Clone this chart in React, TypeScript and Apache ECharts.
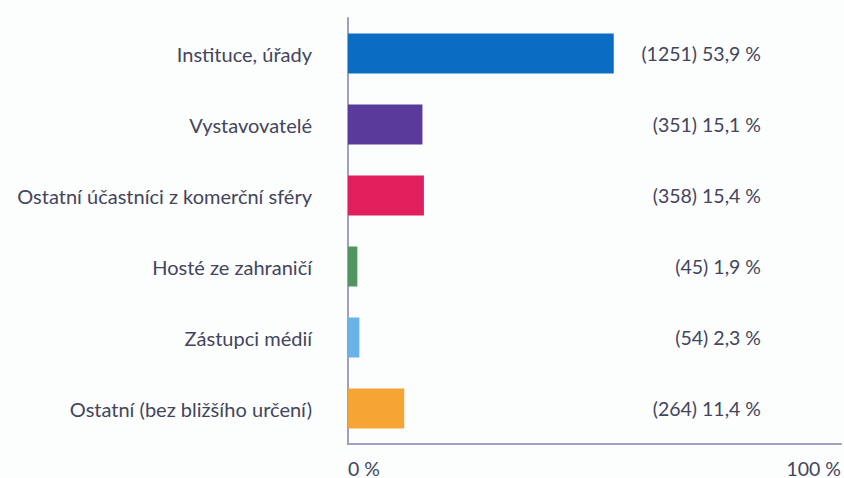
import React, { useEffect, useRef } from "react";
import * as echarts from "echarts";

const categories = [
  "Instituce, úřady",
  "Vystavovatelé",
  "Ostatní účastníci z komerční sféry",
  "Hosté ze zahraničí",
  "Zástupci médií",
  "Ostatní (bez bližšího určení)",
];
const counts = [1251, 351, 358, 45, 54, 264];
const percents = [53.9, 15.1, 15.4, 1.9, 2.3, 11.4];
const colors = ["#0a6cc2", "#5a3b9c", "#e01f5c", "#4f9660", "#6cb2ea", "#f6a535"];
const axisTicks = [0, 100];

const fmt = (v: number) => v.toFixed(1).replace(".", ",");

export default function App() {
  const ref = useRef<HTMLDivElement>(null);
  useEffect(() => {
    if (!ref.current) return;
    const chart = echarts.init(ref.current, undefined, { renderer: "svg" });
    const textColor = "#43455c";
    const font = "Lato, 'Open Sans', sans-serif";
    chart.setOption({
      animation: false,
      backgroundColor: "#fcfdfd",
      grid: { left: 348, right: 1, top: 18, bottom: 34, containLabel: false },
      xAxis: {
        type: "value",
        min: axisTicks[0],
        max: axisTicks[1],
        interval: axisTicks[1] - axisTicks[0],
        axisLine: { show: true, lineStyle: { color: "#a39dc6", width: 2 } },
        axisTick: { show: false },
        splitLine: { show: false },
        axisLabel: {
          color: textColor,
          fontSize: 19.5,
          fontFamily: font,
          margin: 14,
          alignMinLabel: "left",
          alignMaxLabel: "right",
          formatter: (v: number) => `${v} %`,
        },
      },
      yAxis: {
        type: "category",
        inverse: true,
        data: categories,
        axisLine: { show: true, lineStyle: { color: "#a39dc6", width: 2 } },
        axisTick: { show: false },
        axisLabel: {
          color: textColor,
          fontSize: 20,
          fontFamily: font,
          margin: 36,
        },
      },
      series: [
        {
          type: "bar",
          barWidth: 40,
          data: percents.map((p, i) => ({
            value: p,
            itemStyle: { color: colors[i] },
            label: {
              show: true,
              position: [413, "50%"],
              align: "right",
              verticalAlign: "middle",
              color: textColor,
              fontSize: 19.5,
              fontFamily: font,
              formatter: () => `(${counts[i]}) ${fmt(p)} %`,
            },
          })),
        },
      ],
    });
    return () => chart.dispose();
  }, []);
  return (
    <div
      ref={ref}
      style={{ position: "fixed", left: 0, top: 0, width: 844, height: 478 }}
    />
  );
}
